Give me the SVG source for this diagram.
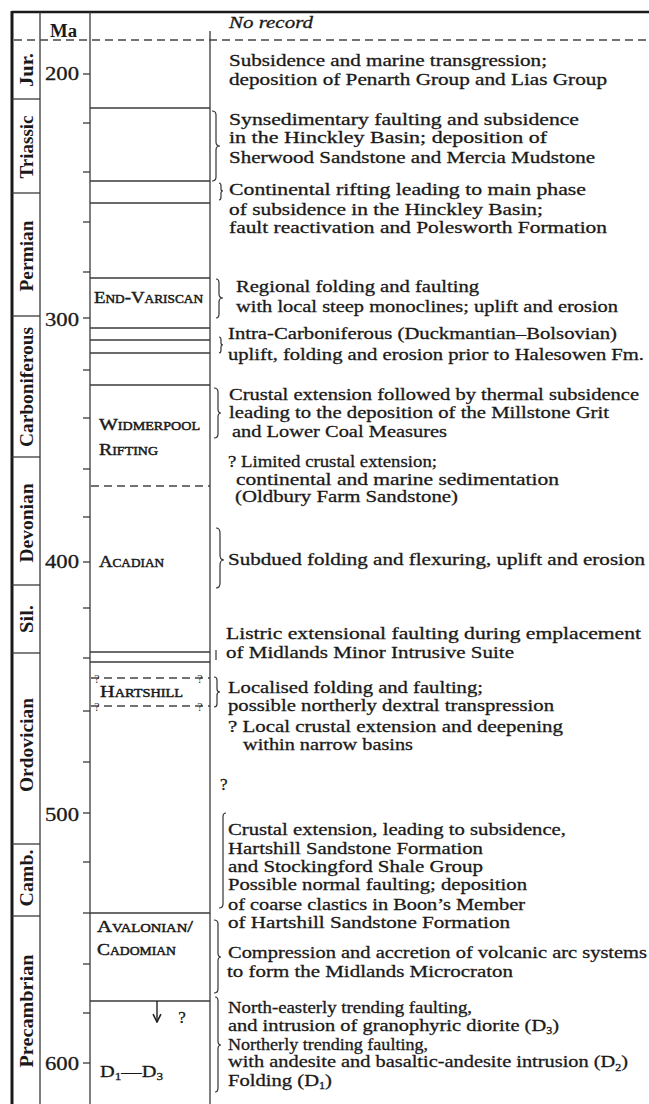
<svg xmlns="http://www.w3.org/2000/svg" width="649" height="1104" viewBox="0 0 649 1104">
<defs>
<style>
.ln{stroke:#3a3a3a;stroke-width:1.3;fill:none}
.bd{stroke:#1a1a1a;fill:none}
.dash{stroke:#444;stroke-width:1.3;stroke-dasharray:8 5;fill:none}
.br{stroke:#333;stroke-width:1.2;fill:none}
.t{font-family:"Liberation Serif",serif;font-size:17px;fill:#1a1a1a;stroke:#1a1a1a;stroke-width:0.3}
.p{font-family:"Liberation Serif",serif;font-size:18px;font-weight:bold;fill:#1a1a1a}
.n{font-family:"Liberation Serif",serif;font-size:19px;fill:#1a1a1a;stroke:#1a1a1a;stroke-width:0.3}
.sc{font-family:"Liberation Serif",serif;font-size:17px;font-variant:small-caps;fill:#1a1a1a;stroke:#1a1a1a;stroke-width:0.45}
.q{font-family:"Liberation Serif",serif;font-size:12px;fill:#333}
</style>
<marker id="ah" viewBox="0 0 10 10" refX="9" refY="5" markerWidth="7" markerHeight="7" orient="auto"><path d="M1,1 L9,5 L1,9" fill="none" stroke="#222" stroke-width="1.6"/></marker>
</defs>
<rect width="649" height="1104" fill="#fff"/>

<g id="frame">
<line class="bd" x1="12" y1="12" x2="649" y2="12" stroke-width="2.5"/>
<line class="bd" x1="12" y1="11" x2="12" y2="1104" stroke-width="3"/>
<line class="ln" x1="40" y1="12" x2="40" y2="1104"/>
<line class="ln" x1="90" y1="12" x2="90" y2="1104"/>
<line class="ln" x1="210" y1="31" x2="210" y2="1104"/>
<line class="dash" x1="14" y1="40" x2="649" y2="40"/>
</g>

<g id="periods">
<g class="ln">
<line x1="12" y1="99" x2="40" y2="99"/>
<line x1="12" y1="193" x2="40" y2="193"/>
<line x1="12" y1="316" x2="40" y2="316"/>
<line x1="12" y1="457" x2="40" y2="457"/>
<line x1="12" y1="585" x2="40" y2="585"/>
<line x1="12" y1="653" x2="40" y2="653"/>
<line x1="12" y1="844" x2="40" y2="844"/>
<line x1="12" y1="916" x2="40" y2="916"/>
</g>
<text class="p" transform="translate(33,70) rotate(-90)" text-anchor="middle" textLength="34" lengthAdjust="spacingAndGlyphs">Jur.</text>
<text class="p" transform="translate(33,147) rotate(-90)" text-anchor="middle" textLength="63" lengthAdjust="spacingAndGlyphs">Triassic</text>
<text class="p" transform="translate(33,256) rotate(-90)" text-anchor="middle" textLength="71" lengthAdjust="spacingAndGlyphs">Permian</text>
<text class="p" transform="translate(33,387) rotate(-90)" text-anchor="middle" textLength="120" lengthAdjust="spacingAndGlyphs">Carboniferous</text>
<text class="p" transform="translate(33,523) rotate(-90)" text-anchor="middle" textLength="79" lengthAdjust="spacingAndGlyphs">Devonian</text>
<text class="p" transform="translate(33,619) rotate(-90)" text-anchor="middle" textLength="28" lengthAdjust="spacingAndGlyphs">Sil.</text>
<text class="p" transform="translate(33,745) rotate(-90)" text-anchor="middle" textLength="94" lengthAdjust="spacingAndGlyphs">Ordovician</text>
<text class="p" transform="translate(33,878) rotate(-90)" text-anchor="middle" textLength="57" lengthAdjust="spacingAndGlyphs">Camb.</text>
<text class="p" transform="translate(33,1011) rotate(-90)" text-anchor="middle" textLength="113" lengthAdjust="spacingAndGlyphs">Precambrian</text>
</g>

<g id="ma-scale">
<text class="p" x="50" y="37" font-size="17" textLength="27" lengthAdjust="spacingAndGlyphs">Ma</text>
<g class="ln">
<line x1="83" y1="74" x2="90" y2="74"/>
<line x1="83" y1="123" x2="90" y2="123"/>
<line x1="83" y1="172" x2="90" y2="172"/>
<line x1="83" y1="222" x2="90" y2="222"/>
<line x1="83" y1="272" x2="90" y2="272"/>
<line x1="83" y1="318" x2="90" y2="318"/>
<line x1="83" y1="370" x2="90" y2="370"/>
<line x1="83" y1="418" x2="90" y2="418"/>
<line x1="83" y1="469" x2="90" y2="469"/>
<line x1="83" y1="517" x2="90" y2="517"/>
<line x1="83" y1="562" x2="90" y2="562"/>
<line x1="83" y1="608" x2="90" y2="608"/>
<line x1="83" y1="658" x2="90" y2="658"/>
<line x1="83" y1="711" x2="90" y2="711"/>
<line x1="83" y1="762" x2="90" y2="762"/>
<line x1="83" y1="813" x2="90" y2="813"/>
<line x1="83" y1="862" x2="90" y2="862"/>
<line x1="83" y1="913" x2="90" y2="913"/>
<line x1="83" y1="964" x2="90" y2="964"/>
<line x1="83" y1="1013" x2="90" y2="1013"/>
<line x1="83" y1="1063" x2="90" y2="1063"/>
</g>
<text class="n" x="45" y="80" textLength="34" lengthAdjust="spacingAndGlyphs">200</text>
<text class="n" x="45" y="326" textLength="34" lengthAdjust="spacingAndGlyphs">300</text>
<text class="n" x="45" y="568" textLength="34" lengthAdjust="spacingAndGlyphs">400</text>
<text class="n" x="45" y="821" textLength="34" lengthAdjust="spacingAndGlyphs">500</text>
<text class="n" x="45" y="1070" textLength="34" lengthAdjust="spacingAndGlyphs">600</text>
</g>

<g id="events-column">
<g class="ln">
<line x1="90" y1="108" x2="210" y2="108"/>
<line x1="90" y1="181" x2="210" y2="181"/>
<line x1="90" y1="203" x2="210" y2="203"/>
<line x1="90" y1="278" x2="210" y2="278"/>
<line x1="90" y1="328" x2="210" y2="328"/>
<line x1="90" y1="340" x2="210" y2="340"/>
<line x1="90" y1="353" x2="210" y2="353"/>
<line x1="90" y1="385" x2="210" y2="385"/>
<line x1="90" y1="652" x2="210" y2="652"/>
<line x1="90" y1="662" x2="210" y2="662"/>
<line x1="90" y1="913" x2="210" y2="913"/>
<line x1="90" y1="1001" x2="210" y2="1001"/>
</g>
<line class="dash" x1="91" y1="486" x2="210" y2="486" stroke-dasharray="6 4"/>
<line class="dash" x1="91" y1="678" x2="210" y2="678" stroke-dasharray="6 4"/>
<line class="dash" x1="91" y1="706" x2="210" y2="706" stroke-dasharray="6 4"/>
<text class="q" x="97" y="683" text-anchor="middle">?</text>
<text class="q" x="200" y="683" text-anchor="middle">?</text>
<text class="q" x="97" y="711" text-anchor="middle">?</text>
<text class="q" x="200" y="711" text-anchor="middle">?</text>
<line x1="157" y1="1001" x2="157" y2="1022" stroke="#222" stroke-width="1.4" marker-end="url(#ah)"/>
<text class="t" x="182" y="1023" font-size="15" text-anchor="middle">?</text>
</g>

<g id="labels">
<text class="sc" x="94" y="303" textLength="109" lengthAdjust="spacingAndGlyphs">End-Variscan</text>
<text class="sc" x="99" y="430" textLength="101" lengthAdjust="spacingAndGlyphs">Widmerpool</text>
<text class="sc" x="99" y="455" textLength="59" lengthAdjust="spacingAndGlyphs">Rifting</text>
<text class="sc" x="99" y="567" textLength="65" lengthAdjust="spacingAndGlyphs">Acadian</text>
<text class="sc" x="100" y="697" textLength="83" lengthAdjust="spacingAndGlyphs">Hartshill</text>
<text class="sc" x="97" y="932" textLength="96" lengthAdjust="spacingAndGlyphs">Avalonian/</text>
<text class="sc" x="97" y="955" textLength="79" lengthAdjust="spacingAndGlyphs">Cadomian</text>
<text class="t" x="100" y="1077" textLength="63" lengthAdjust="spacingAndGlyphs">D<tspan font-size="11" dy="3">1</tspan><tspan dy="-3">—D</tspan><tspan font-size="11" dy="3">3</tspan></text>
</g>

<g id="braces" class="br">
<path d="M212,111 q4,0 4,4 V142 q0,4 4,4 q-4,0 -4,4 V177 q0,4 -4,4"/>
<path d="M219,183 q2,0 2,3 V189 q0,2 2,2 q-2,0 -2,2 V197 q0,3 -2,3"/>
<path d="M216,279 q3,0 3,4 V294 q0,4 4,4 q-4,0 -4,4 V314 q0,4 -3,4"/>
<path d="M219,337 q2,0 2,3 V343 q0,2 2,2 q-2,0 -2,2 V350 q0,3 -2,3"/>
<path d="M214,388 q4,0 4,4 V409 q0,4 3,4 q-3,0 -3,4 V434 q0,4 -4,4"/>
<path d="M216,528 q4,0 4,5 V555 q0,5 4,5 q-4,0 -4,5 V583 q0,5 -4,5"/>
<path d="M216,650 V660"/>
<path d="M214,677 q3,0 3,3 V689 q0,3 3,3 q-3,0 -3,3 V704 q0,3 -3,3"/>
<path d="M226,813 q-3,0 -3,4 V904 q0,4 -4,4"/>
<path d="M214,920 q4,0 4,4 V953 q0,4 3,4 q-3,0 -3,4 V989 q0,4 -4,4"/>
<path d="M215,997 q3,0 3,4 V1041 q0,4 3,4 q-3,0 -3,4 V1088 q0,4 -3,4"/>
</g>

<g id="events-text">
<text class="t" x="229" y="28" font-style="italic" font-size="16" textLength="84" lengthAdjust="spacingAndGlyphs">No record</text>
<text class="t" x="229" y="66" textLength="318" lengthAdjust="spacingAndGlyphs">Subsidence and marine transgression;</text>
<text class="t" x="229" y="85" textLength="378" lengthAdjust="spacingAndGlyphs">deposition of Penarth Group and Lias Group</text>
<text class="t" x="229" y="125" textLength="350" lengthAdjust="spacingAndGlyphs">Synsedimentary  faulting and subsidence</text>
<text class="t" x="229" y="143" textLength="318" lengthAdjust="spacingAndGlyphs">in the Hinckley  Basin; deposition of</text>
<text class="t" x="229" y="163" textLength="366" lengthAdjust="spacingAndGlyphs">Sherwood Sandstone and Mercia Mudstone</text>
<text class="t" x="229" y="195" textLength="357" lengthAdjust="spacingAndGlyphs">Continental rifting leading to main phase</text>
<text class="t" x="229" y="215" textLength="314" lengthAdjust="spacingAndGlyphs">of subsidence in the Hinckley Basin;</text>
<text class="t" x="229" y="233" textLength="378" lengthAdjust="spacingAndGlyphs">fault reactivation and Polesworth Formation</text>
<text class="t" x="236" y="292" textLength="243" lengthAdjust="spacingAndGlyphs">Regional folding and faulting</text>
<text class="t" x="236" y="312" textLength="382" lengthAdjust="spacingAndGlyphs">with local steep monoclines; uplift and erosion</text>
<text class="t" x="228" y="339" textLength="389" lengthAdjust="spacingAndGlyphs">Intra-Carboniferous (Duckmantian–Bolsovian)</text>
<text class="t" x="228" y="360" textLength="416" lengthAdjust="spacingAndGlyphs">uplift, folding and erosion prior to Halesowen Fm.</text>
<text class="t" x="229" y="400" textLength="410" lengthAdjust="spacingAndGlyphs">Crustal extension followed by thermal subsidence</text>
<text class="t" x="229" y="418" textLength="380" lengthAdjust="spacingAndGlyphs">leading to the deposition of the Millstone Grit</text>
<text class="t" x="232" y="437" textLength="215" lengthAdjust="spacingAndGlyphs">and Lower Coal Measures</text>
<text class="t" x="228" y="467" textLength="209" lengthAdjust="spacingAndGlyphs">? Limited crustal extension;</text>
<text class="t" x="236" y="485" textLength="323" lengthAdjust="spacingAndGlyphs">continental and marine sedimentation</text>
<text class="t" x="235" y="502" textLength="223" lengthAdjust="spacingAndGlyphs">(Oldbury Farm Sandstone)</text>
<text class="t" x="228" y="565" textLength="417" lengthAdjust="spacingAndGlyphs">Subdued folding and flexuring, uplift and erosion</text>
<text class="t" x="226" y="639" textLength="415" lengthAdjust="spacingAndGlyphs">Listric extensional faulting during emplacement</text>
<text class="t" x="226" y="658" textLength="288" lengthAdjust="spacingAndGlyphs">of Midlands Minor Intrusive Suite</text>
<text class="t" x="228" y="693" textLength="255" lengthAdjust="spacingAndGlyphs">Localised folding and faulting;</text>
<text class="t" x="228" y="711" textLength="326" lengthAdjust="spacingAndGlyphs">possible northerly dextral transpression</text>
<text class="t" x="228" y="732" textLength="335" lengthAdjust="spacingAndGlyphs">? Local crustal extension and deepening</text>
<text class="t" x="243" y="750" textLength="170" lengthAdjust="spacingAndGlyphs">within narrow basins</text>
<text class="t" x="220" y="790">?</text>
<text class="t" x="228" y="835" textLength="338" lengthAdjust="spacingAndGlyphs">Crustal extension, leading to subsidence,</text>
<text class="t" x="228" y="854" textLength="255" lengthAdjust="spacingAndGlyphs">Hartshill Sandstone Formation</text>
<text class="t" x="228" y="872" textLength="255" lengthAdjust="spacingAndGlyphs">and Stockingford Shale Group</text>
<text class="t" x="228" y="890" textLength="299" lengthAdjust="spacingAndGlyphs">Possible normal faulting; deposition</text>
<text class="t" x="228" y="910" textLength="297" lengthAdjust="spacingAndGlyphs">of coarse clastics in Boon’s Member</text>
<text class="t" x="228" y="928" textLength="282" lengthAdjust="spacingAndGlyphs">of Hartshill Sandstone  Formation</text>
<text class="t" x="228" y="958" textLength="419" lengthAdjust="spacingAndGlyphs">Compression and accretion of volcanic arc systems</text>
<text class="t" x="227" y="977" textLength="286" lengthAdjust="spacingAndGlyphs">to form the Midlands Microcraton</text>
<text class="t" x="228" y="1013" textLength="244" lengthAdjust="spacingAndGlyphs">North-easterly trending faulting,</text>
<text class="t" x="228" y="1031" textLength="331" lengthAdjust="spacingAndGlyphs">and intrusion of granophyric diorite (D<tspan font-size="10" dy="3">3</tspan><tspan dy="-3">)</tspan></text>
<text class="t" x="228" y="1050" textLength="200" lengthAdjust="spacingAndGlyphs">Northerly trending faulting,</text>
<text class="t" x="228" y="1067" textLength="400" lengthAdjust="spacingAndGlyphs">with andesite and basaltic-andesite intrusion (D<tspan font-size="10" dy="4">2</tspan><tspan dy="-4">)</tspan></text>
<text class="t" x="228" y="1086" textLength="104" lengthAdjust="spacingAndGlyphs">Folding (D<tspan font-size="10" dy="3">1</tspan><tspan dy="-3">)</tspan></text>
</g>
</svg>
